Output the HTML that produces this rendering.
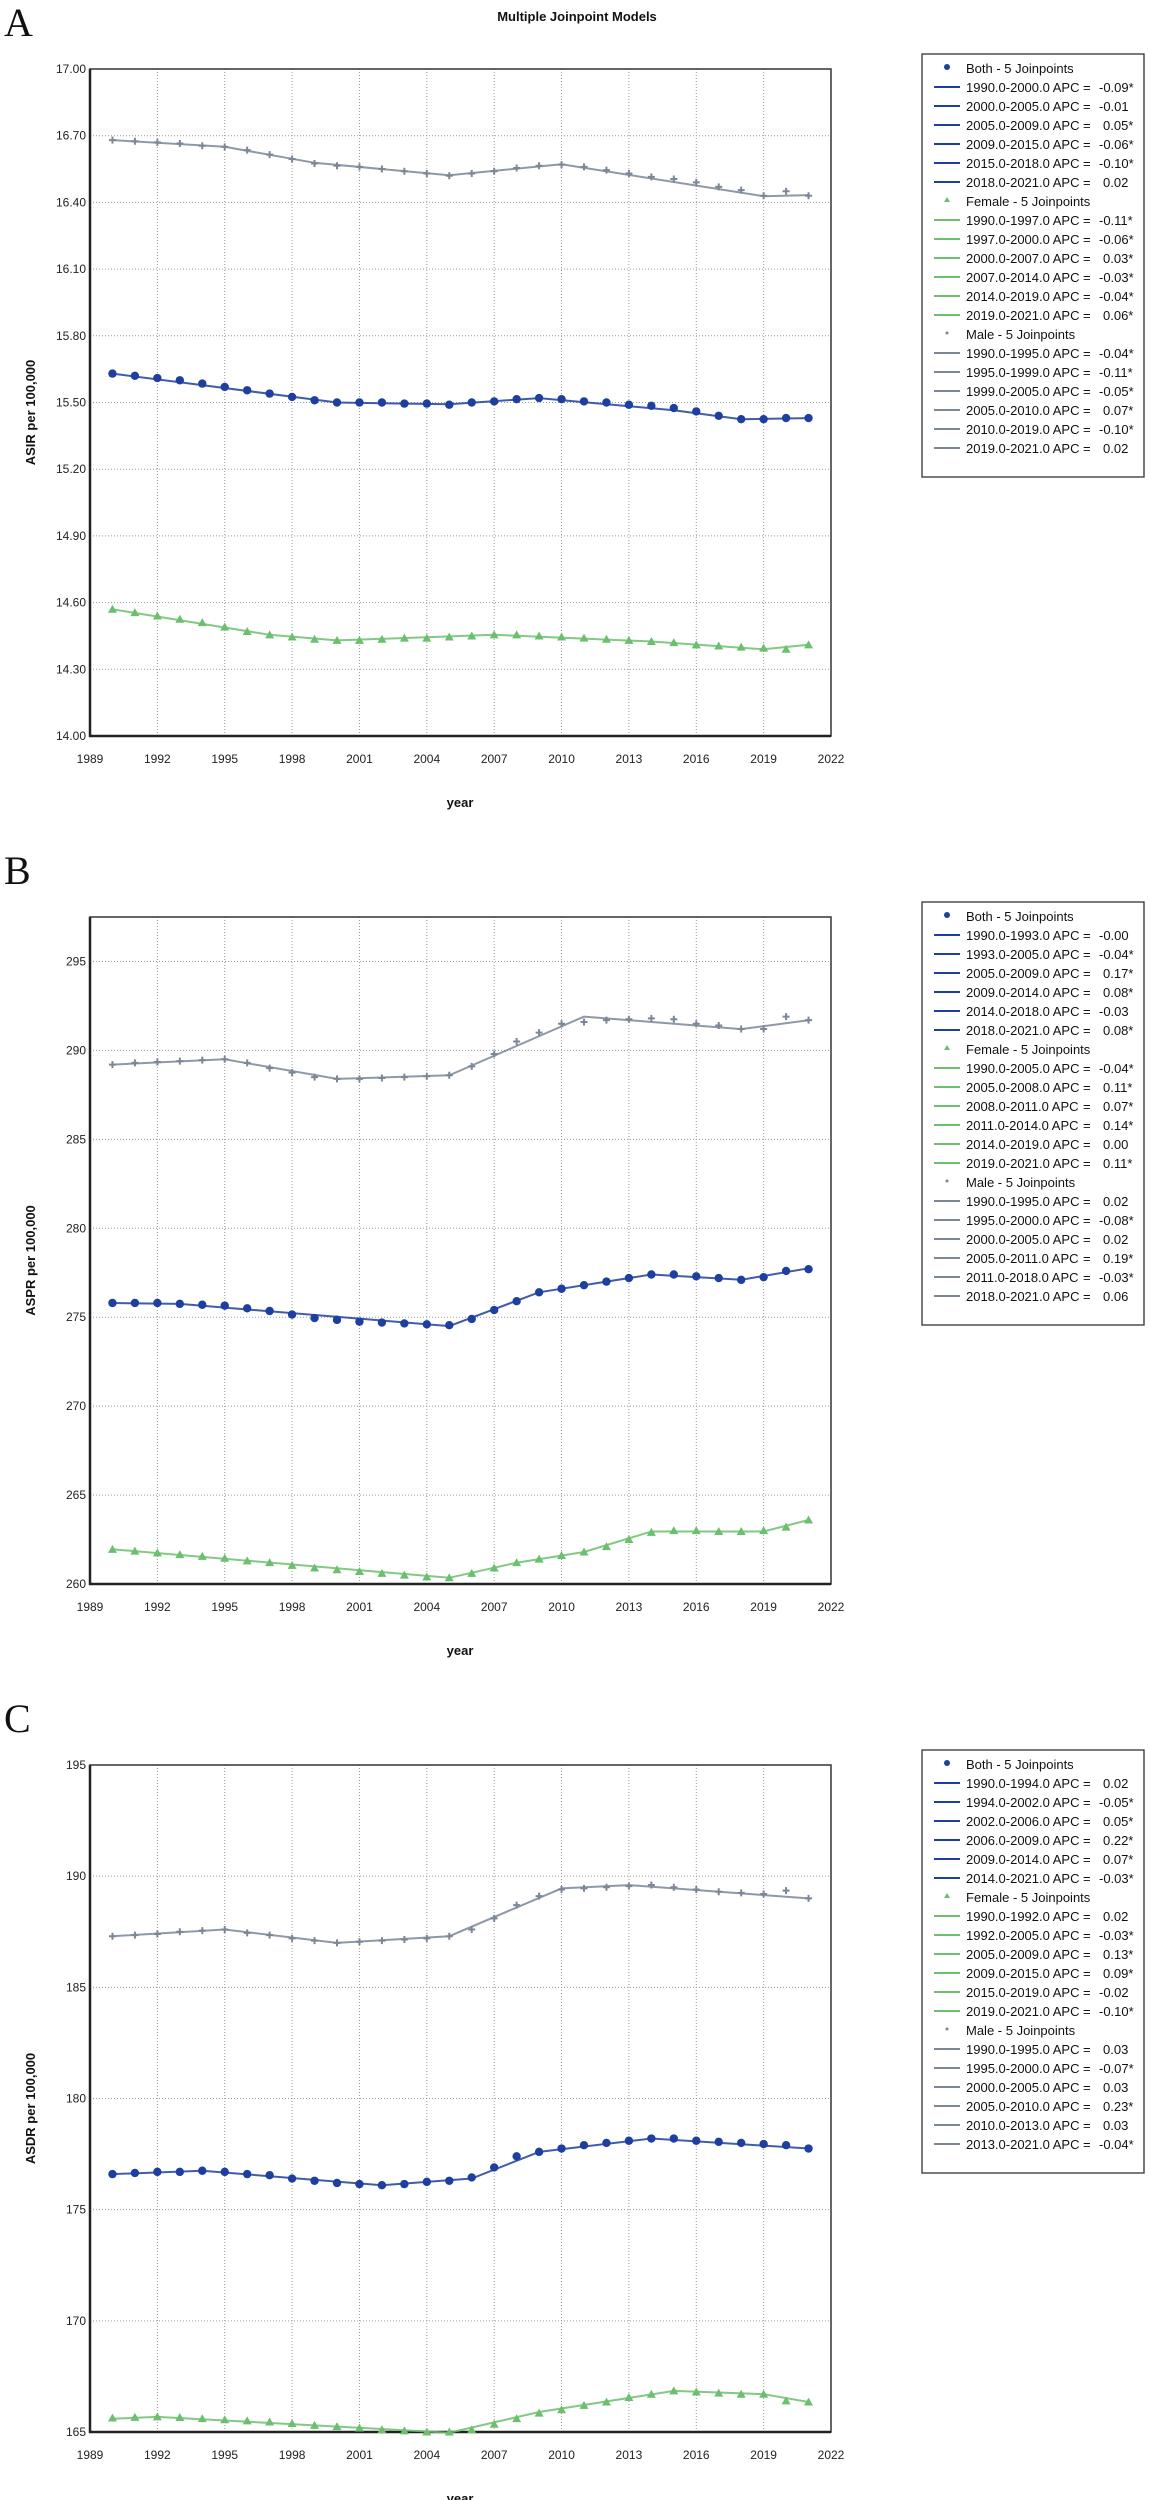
<!DOCTYPE html>
<html><head><meta charset="utf-8"><style>
html,body{margin:0;padding:0;background:#fff;}
svg{display:block;font-family:"Liberation Sans",sans-serif;}
</style></head><body>
<svg id="fig" width="1150" height="2500" viewBox="0 0 1150 2500" xmlns="http://www.w3.org/2000/svg">
<text x="577" y="21" text-anchor="middle" font-size="13" font-weight="bold" fill="#111">Multiple Joinpoint Models</text>
</svg>
<script>
const years = [1990,1991,1992,1993,1994,1995,1996,1997,1998,1999,2000,2001,2002,2003,2004,2005,2006,2007,2008,2009,2010,2011,2012,2013,2014,2015,2016,2017,2018,2019,2020,2021];
const xTicks = [1989,1992,1995,1998,2001,2004,2007,2010,2013,2016,2019,2022];

// Panel A (ASIR)
const aBoth = [15.63,15.62,15.61,15.60,15.585,15.57,15.555,15.54,15.525,15.51,15.50,15.50,15.50,15.495,15.495,15.49,15.50,15.505,15.515,15.52,15.515,15.505,15.50,15.49,15.485,15.475,15.46,15.44,15.425,15.425,15.43,15.43];
const aFemale = [14.57,14.555,14.54,14.525,14.51,14.49,14.47,14.455,14.445,14.435,14.43,14.43,14.435,14.44,14.44,14.445,14.45,14.455,14.455,14.45,14.445,14.44,14.435,14.43,14.425,14.42,14.41,14.405,14.40,14.395,14.39,14.41];
const aMale = [16.68,16.675,16.67,16.665,16.655,16.65,16.635,16.615,16.595,16.575,16.565,16.56,16.55,16.54,16.53,16.52,16.53,16.54,16.555,16.565,16.57,16.56,16.545,16.53,16.515,16.505,16.49,16.47,16.455,16.43,16.45,16.43];
const aBothFitYears = [1990,2000,2005,2009,2015,2018,2021];
const aBothFit = [15.63,15.50,15.492,15.52,15.465,15.425,15.43];
const aFemaleFitYears = [1990,1997,2000,2007,2014,2019,2021];
const aFemaleFit = [14.57,14.455,14.43,14.455,14.425,14.39,14.41];
const aMaleFitYears = [1990,1995,1999,2005,2010,2019,2021];
const aMaleFit = [16.68,16.65,16.578,16.522,16.572,16.428,16.433];
const aYTicks = [14.00,14.30,14.60,14.90,15.20,15.50,15.80,16.10,16.40,16.70,17.00];
const aLegBoth = [["1990.0-2000.0","-0.09*"],["2000.0-2005.0","-0.01"],["2005.0-2009.0","0.05*"],["2009.0-2015.0","-0.06*"],["2015.0-2018.0","-0.10*"],["2018.0-2021.0","0.02"]];
const aLegFemale = [["1990.0-1997.0","-0.11*"],["1997.0-2000.0","-0.06*"],["2000.0-2007.0","0.03*"],["2007.0-2014.0","-0.03*"],["2014.0-2019.0","-0.04*"],["2019.0-2021.0","0.06*"]];
const aLegMale = [["1990.0-1995.0","-0.04*"],["1995.0-1999.0","-0.11*"],["1999.0-2005.0","-0.05*"],["2005.0-2010.0","0.07*"],["2010.0-2019.0","-0.10*"],["2019.0-2021.0","0.02"]];

// Panel B (ASPR)
const bBoth = [275.8,275.8,275.8,275.75,275.7,275.65,275.5,275.35,275.15,274.95,274.85,274.75,274.7,274.65,274.6,274.55,274.9,275.4,275.9,276.4,276.6,276.8,277.0,277.2,277.4,277.4,277.3,277.2,277.1,277.25,277.6,277.7];
const bFemale = [261.95,261.85,261.75,261.65,261.55,261.45,261.3,261.2,261.05,260.9,260.8,260.7,260.6,260.5,260.4,260.35,260.6,260.9,261.2,261.4,261.6,261.8,262.1,262.5,262.9,263.0,263.0,262.95,262.95,263.0,263.2,263.6];
const bMale = [289.2,289.3,289.35,289.4,289.45,289.5,289.3,289.0,288.75,288.5,288.4,288.4,288.45,288.5,288.55,288.6,289.1,289.8,290.5,291.0,291.5,291.6,291.7,291.75,291.8,291.75,291.5,291.4,291.2,291.2,291.9,291.7];
const bBothFitYears = [1990,1993,2005,2009,2014,2018,2021];
const bBothFit = [275.8,275.75,274.5,276.4,277.4,277.1,277.75];
const bFemaleFitYears = [1990,2005,2008,2011,2014,2019,2021];
const bFemaleFit = [261.95,260.35,261.2,261.8,262.95,262.95,263.6];
const bMaleFitYears = [1990,1995,2000,2005,2011,2018,2021];
const bMaleFit = [289.2,289.5,288.4,288.6,291.9,291.2,291.7];
const bYTicks = [260,265,270,275,280,285,290,295];
const bLegBoth = [["1990.0-1993.0","-0.00"],["1993.0-2005.0","-0.04*"],["2005.0-2009.0","0.17*"],["2009.0-2014.0","0.08*"],["2014.0-2018.0","-0.03"],["2018.0-2021.0","0.08*"]];
const bLegFemale = [["1990.0-2005.0","-0.04*"],["2005.0-2008.0","0.11*"],["2008.0-2011.0","0.07*"],["2011.0-2014.0","0.14*"],["2014.0-2019.0","0.00"],["2019.0-2021.0","0.11*"]];
const bLegMale = [["1990.0-1995.0","0.02"],["1995.0-2000.0","-0.08*"],["2000.0-2005.0","0.02"],["2005.0-2011.0","0.19*"],["2011.0-2018.0","-0.03*"],["2018.0-2021.0","0.06"]];

// Panel C (ASDR)
const cBoth = [176.6,176.65,176.7,176.7,176.75,176.7,176.6,176.55,176.4,176.3,176.2,176.15,176.1,176.15,176.25,176.3,176.45,176.9,177.4,177.6,177.75,177.9,178.0,178.1,178.2,178.2,178.1,178.05,178.0,177.95,177.9,177.75];
const cFemale = [165.63,165.66,165.68,165.65,165.6,165.55,165.5,165.45,165.38,165.3,165.24,165.18,165.1,165.05,165.0,165.0,165.1,165.35,165.6,165.85,166.0,166.2,166.35,166.55,166.7,166.85,166.8,166.75,166.7,166.7,166.4,166.35];
const cMale = [187.3,187.35,187.4,187.5,187.55,187.6,187.45,187.35,187.2,187.1,187.0,187.05,187.1,187.15,187.2,187.3,187.6,188.1,188.7,189.1,189.4,189.45,189.5,189.55,189.6,189.5,189.4,189.3,189.25,189.2,189.35,189.0];
const cBothFitYears = [1990,1994,2002,2006,2009,2014,2021];
const cBothFit = [176.6,176.75,176.1,176.4,177.6,178.2,177.75];
const cFemaleFitYears = [1990,1992,2005,2009,2015,2019,2021];
const cFemaleFit = [165.6,165.68,164.97,165.9,166.85,166.7,166.35];
const cMaleFitYears = [1990,1995,2000,2005,2010,2013,2021];
const cMaleFit = [187.3,187.6,187.0,187.3,189.45,189.6,189.0];
const cYTicks = [165,170,175,180,185,190,195];
const cLegBoth = [["1990.0-1994.0","0.02"],["1994.0-2002.0","-0.05*"],["2002.0-2006.0","0.05*"],["2006.0-2009.0","0.22*"],["2009.0-2014.0","0.07*"],["2014.0-2021.0","-0.03*"]];
const cLegFemale = [["1990.0-1992.0","0.02"],["1992.0-2005.0","-0.03*"],["2005.0-2009.0","0.13*"],["2009.0-2015.0","0.09*"],["2015.0-2019.0","-0.02"],["2019.0-2021.0","-0.10*"]];
const cLegMale = [["1990.0-1995.0","0.03"],["1995.0-2000.0","-0.07*"],["2000.0-2005.0","0.03"],["2005.0-2010.0","0.23*"],["2010.0-2013.0","0.03"],["2013.0-2021.0","-0.04*"]];

const NS = "http://www.w3.org/2000/svg";
const svg = document.getElementById("fig");
const C_BOTH = "#1f3f9e", C_FEM = "#6cbf6e", C_MALE = "#7b8797";

function mk(tag, attrs, parent) {
  const e = document.createElementNS(NS, tag);
  for (const k in attrs) e.setAttribute(k, attrs[k]);
  (parent || svg).appendChild(e);
  return e;
}

function panel(cfg) {
  const o = cfg.off;
  const X0 = 90, X1 = 831, Y0 = 69 + o, Y1 = 736 + o;
  const xs = y => X0 + (y - 1989) / (2022 - 1989) * (X1 - X0);
  const ys = v => Y1 - (v - cfg.ymin) / (cfg.ymax - cfg.ymin) * (Y1 - Y0);
  const g = mk("g", {});
  
  

  const lab = mk("text", {x: 4, y: 36 + o, "font-size": 40, "font-family": "Liberation Serif, serif", fill: "#111"}, g);
  lab.textContent = cfg.letter;
  
  

  // gridlines
  xTicks.forEach(t => {
    if (t > 1989 && t < 2022) {
      const l = mk("line", {x1: xs(t), x2: xs(t), y1: Y0, y2: Y1, stroke: "#9a9a9a", "stroke-width": 1, "stroke-dasharray": "1,2"}, g);
      
      
    }
    const tx = mk("text", {x: xs(t), y: Y1 + 27, "text-anchor": "middle", "font-size": 12, fill: "#222"}, g);
    tx.textContent = t;
    
    
  });
  cfg.yt.forEach(t => {
    if (t > cfg.ymin && t < cfg.ymax) {
      const l = mk("line", {x1: X0, x2: X1, y1: ys(t), y2: ys(t), stroke: "#9a9a9a", "stroke-width": 1, "stroke-dasharray": "1,2"}, g);
      
      
    }
    const tx = mk("text", {x: X0 - 4, y: ys(t) + 4, "text-anchor": "end", "font-size": 12, fill: "#222"}, g);
    tx.textContent = cfg.dec ? t.toFixed(2) : t;
    
    
  });
  const box = mk("rect", {x: X0, y: Y0, width: X1 - X0, height: Y1 - Y0, fill: "none", stroke: "#333", "stroke-width": 1.5}, g);
  
  
  const ax = mk("path", {d: `M${X0},${Y0} L${X0},${Y1} L${X1},${Y1}`, fill: "none", stroke: "#222", "stroke-width": 2.5}, g);
  
  

  const yl = mk("text", {x: 0, y: 0, transform: `translate(35,${(Y0 + Y1) / 2 + 10}) rotate(-90)`, "text-anchor": "middle", "font-size": 13, "font-weight": "bold", fill: "#111"}, g);
  yl.textContent = cfg.ylabel;
  
  
  const xl = mk("text", {x: 460, y: Y1 + 71, "text-anchor": "middle", "font-size": 13, "font-weight": "bold", fill: "#111"}, g);
  xl.textContent = "year";
  
  

  // series
  cfg.series.forEach(s => {
    const pts = s.fy.map((y, i) => xs(y).toFixed(1) + "," + ys(s.fv[i]).toFixed(1)).join(" ");
    const pl = mk("polyline", {points: pts, fill: "none", stroke: s.color, "stroke-width": 2, "stroke-opacity": 0.85}, g);
    
    
    years.forEach((y, i) => {
      const cx = xs(y), cy = ys(s.vals[i]);
      let m;
      if (s.marker === "circle") {
        m = mk("circle", {cx: cx, cy: cy, r: 4.2, fill: s.color}, g);
      } else if (s.marker === "tri") {
        m = mk("path", {d: `M${cx},${cy - 4.5} L${cx + 4.5},${cy + 3.5} L${cx - 4.5},${cy + 3.5} Z`, fill: s.color}, g);
      } else {
        m = mk("path", {d: `M${cx - 3.5},${cy} L${cx + 3.5},${cy} M${cx},${cy - 3.5} L${cx},${cy + 3.5}`, stroke: s.color, "stroke-width": 2}, g);
      }
      
      
    });
  });

  // legend
  const LX = 922, LY = 54 + o;
  const rows = 21;
  const lg = mk("g", {}, g);
  
  
  const lb = mk("rect", {x: LX, y: LY, width: 222, height: rows * 19 + 24, fill: "#fff", stroke: "#333", "stroke-width": 1.3}, lg);
  
  
  let r = 0;
  cfg.series.forEach(s => {
    const cy = LY + 14 + r * 19;
    let m;
    if (s.marker === "circle") m = mk("circle", {cx: 947, cy: cy - 1, r: 3, fill: s.color}, lg);
    else if (s.marker === "tri") m = mk("path", {d: `M947,${cy - 4} L950,${cy + 1} L944,${cy + 1} Z`, fill: s.color}, lg);
    else m = mk("circle", {cx: 947, cy: cy - 1, r: 1.5, fill: s.color}, lg);
    
    
    const h = mk("text", {x: 966, y: cy + 5, "font-size": 13, fill: "#111"}, lg);
    h.textContent = s.title;
    
    
    r++;
    s.leg.forEach(e => {
      const yy = LY + 14 + r * 19;
      const ln = mk("line", {x1: 934, x2: 960, y1: yy, y2: yy, stroke: s.color, "stroke-width": 2}, lg);
      
      
      const t = mk("text", {x: 966, y: yy + 5, "font-size": 13, fill: "#111"}, lg);
      t.textContent = e[0] + " APC";
      
      
      const eq = mk("text", {x: 1083, y: yy + 5, "font-size": 13, fill: "#111"}, lg);
      eq.textContent = "=";
      
      
      const v = mk("text", {x: e[1].startsWith("-") ? 1099 : 1103, y: yy + 5, "font-size": 13, fill: "#111"}, lg);
      v.textContent = e[1];
      
      
      r++;
    });
  });
}

panel({off: 0, letter: "A", name: "asir", ylabel: "ASIR per 100,000", ymin: 14, ymax: 17, yt: aYTicks, dec: true,
  series: [
    {key: "both", title: "Both - 5 Joinpoints", color: C_BOTH, marker: "circle", vals: aBoth, fy: aBothFitYears, fv: aBothFit, leg: aLegBoth},
    {key: "female", title: "Female - 5 Joinpoints", color: C_FEM, marker: "tri", vals: aFemale, fy: aFemaleFitYears, fv: aFemaleFit, leg: aLegFemale},
    {key: "male", title: "Male - 5 Joinpoints", color: C_MALE, marker: "plus", vals: aMale, fy: aMaleFitYears, fv: aMaleFit, leg: aLegMale}
  ]});
panel({off: 848, letter: "B", name: "aspr", ylabel: "ASPR per 100,000", ymin: 260, ymax: 297.5, yt: bYTicks, dec: false,
  series: [
    {key: "both", title: "Both - 5 Joinpoints", color: C_BOTH, marker: "circle", vals: bBoth, fy: bBothFitYears, fv: bBothFit, leg: bLegBoth},
    {key: "female", title: "Female - 5 Joinpoints", color: C_FEM, marker: "tri", vals: bFemale, fy: bFemaleFitYears, fv: bFemaleFit, leg: bLegFemale},
    {key: "male", title: "Male - 5 Joinpoints", color: C_MALE, marker: "plus", vals: bMale, fy: bMaleFitYears, fv: bMaleFit, leg: bLegMale}
  ]});
panel({off: 1696, letter: "C", name: "asdr", ylabel: "ASDR per 100,000", ymin: 165, ymax: 195, yt: cYTicks, dec: false,
  series: [
    {key: "both", title: "Both - 5 Joinpoints", color: C_BOTH, marker: "circle", vals: cBoth, fy: cBothFitYears, fv: cBothFit, leg: cLegBoth},
    {key: "female", title: "Female - 5 Joinpoints", color: C_FEM, marker: "tri", vals: cFemale, fy: cFemaleFitYears, fv: cFemaleFit, leg: cLegFemale},
    {key: "male", title: "Male - 5 Joinpoints", color: C_MALE, marker: "plus", vals: cMale, fy: cMaleFitYears, fv: cMaleFit, leg: cLegMale}
  ]});
</script>
</body></html>
